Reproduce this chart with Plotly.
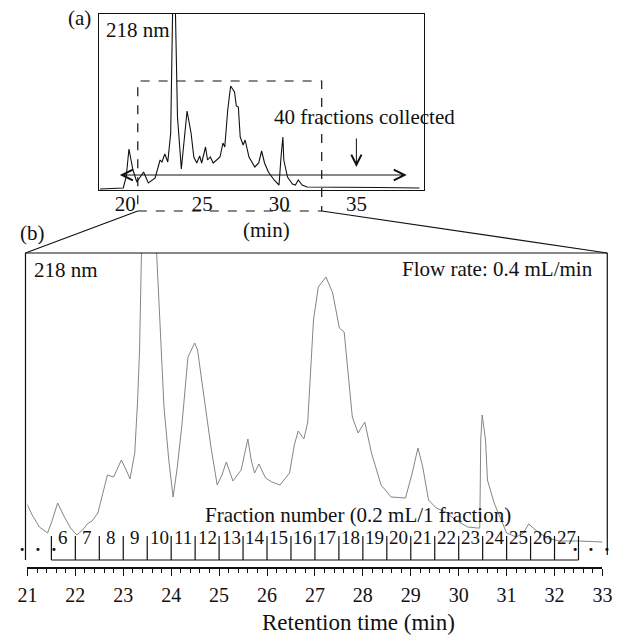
import plotly.graph_objects as go

W, H = 626, 636
FONT = "Liberation Serif"


def px(x):
    return x / W


def py(y):
    return 1 - y / H


# ---------------- data ----------------
# (a) full chromatogram at 218 nm (min, arbitrary absorbance units)
a_time = [18.36, 19.87, 20.06, 20.24, 20.50, 20.75, 21.19, 21.50, 21.94, 22.26,
          22.38, 22.57, 22.76, 22.95, 23.07, 23.17, 23.26, 23.39, 23.64, 23.83,
          24.01, 24.27, 24.45, 24.64, 24.83, 24.96, 25.21, 25.34, 25.52, 25.71,
          26.15, 26.34, 26.46, 26.65, 26.84, 27.09, 27.21, 27.34, 27.46, 27.65,
          27.78, 28.03, 28.41, 28.66, 28.85, 29.04, 29.29, 29.66, 29.98, 30.11,
          30.23, 30.29, 30.53, 30.85, 31.04, 31.23, 31.48, 31.80, 33.25, 36.39,
          39.09]
a_signal = [1, 2, 13, 41, 20, 8, 18, 7, 12, 30,
            28, 36, 28, 57, 176, 260, 176, 73, 21, 50,
            79, 57, 33, 27, 34, 27, 43, 30, 33, 27,
            33, 47, 43, 80, 104, 98, 84, 83, 53, 45,
            50, 33, 23, 27, 39, 27, 18, 10, 5, 33,
            53, 30, 13, 6, 5, 10, 5, 3, 3, 2.5,
            2]

# (b) expanded chromatogram 21-33 min
b_time = [20.98, 21.10, 21.25, 21.42, 21.52, 21.63, 21.75, 21.90, 22.03, 22.15,
          22.27, 22.35, 22.47, 22.57, 22.67, 22.80, 22.96, 23.08, 23.14, 23.24,
          23.30, 23.34, 23.38, 23.55, 23.70, 23.74, 23.85, 23.95, 24.04, 24.12,
          24.22, 24.35, 24.49, 24.55, 24.69, 24.83, 24.96, 25.06, 25.15, 25.29,
          25.46, 25.53, 25.60, 25.67, 25.74, 25.83, 25.97, 26.10, 26.27, 26.47,
          26.57, 26.65, 26.77, 26.85, 26.97, 27.07, 27.23, 27.37, 27.51, 27.61,
          27.71, 27.78, 27.90, 28.04, 28.18, 28.38, 28.59, 28.89, 29.03, 29.15,
          29.25, 29.37, 29.53, 29.73, 29.93, 30.19, 30.39, 30.44, 30.46, 30.49,
          30.56, 30.60, 30.74, 30.88, 31.00, 31.20, 31.35, 31.46, 31.55, 31.68,
          31.85, 32.10, 32.50, 33.00]
b_signal = [64, 52, 40, 34, 47, 64, 52, 39, 32, 37,
            44, 46, 54, 72, 92, 90, 107, 95, 88, 114,
            167, 217, 314, 460, 314, 260, 160, 107, 70, 97,
            140, 210, 224, 217, 167, 120, 82, 92, 105, 86,
            97, 112, 128, 107, 94, 103, 89, 85, 82, 94,
            122, 136, 128, 145, 247, 280, 290, 274, 239, 235,
            187, 150, 134, 145, 114, 82, 70, 69, 94, 119,
            100, 67, 59, 55, 47, 40, 39, 39, 127, 152,
            127, 87, 64, 47, 34, 30, 34, 43, 39, 34,
            29, 26, 26, 25]

fraction_numbers = [6, 7, 8, 9, 10, 11, 12, 13, 14, 15, 16,
                    17, 18, 19, 20, 21, 22, 23, 24, 25, 26, 27]
fraction_edges = [21.5, 22.0, 22.5, 23.0, 23.5, 24.0, 24.5, 25.0, 25.5, 26.0, 26.5, 27.0,
                  27.5, 28.0, 28.5, 29.0, 29.5, 30.0, 30.5, 31.0, 31.5, 32.0, 32.5]

a_ticks = [20, 25, 30, 35]
b_ticks = [21, 22, 23, 24, 25, 26, 27, 28, 29, 30, 31, 32, 33]

# ---------------- figure ----------------
fig = go.Figure()
fig.add_trace(go.Scatter(x=b_time, y=b_signal, xaxis="x", yaxis="y", mode="lines",
                         line=dict(color="#858585", width=1), hoverinfo="skip",
                         showlegend=False))
fig.add_trace(go.Scatter(x=a_time, y=a_signal, xaxis="x2", yaxis="y2", mode="lines",
                         line=dict(color="#111111", width=1.1), hoverinfo="skip",
                         showlegend=False))

tf = dict(family=FONT, size=21, color="#111111")
tickf = dict(family=FONT, size=20, color="#111111")

fig.update_layout(
    width=W, height=H, autosize=False,
    margin=dict(l=0, r=0, t=0, b=0),
    paper_bgcolor="white", plot_bgcolor="rgba(0,0,0,0)",
    font=tf,
    xaxis=dict(domain=[px(18), px(612)], range=[21, 33], anchor="y",
               showline=True, linecolor="#111111", linewidth=1.5,
               ticks="outside", ticklen=7, tickwidth=1.3, tickcolor="#111111",
               tickvals=b_ticks, tickfont=tickf, ticklabelstandoff=2,
               minor=dict(dtick=0.2, ticks="outside", ticklen=4, tickwidth=1,
                          tickcolor="#111111"),
               showgrid=False, zeroline=False),
    yaxis=dict(domain=[py(567), py(253)], range=[0, 314], anchor="x",
               visible=False, showgrid=False, zeroline=False),
    xaxis2=dict(domain=[px(92), px(428)], range=[18.30, 39.41], anchor="y2",
                showline=True, mirror=True, linecolor="#111111", linewidth=1.3,
                ticks="", tickvals=a_ticks, tickfont=tf, ticklabelstandoff=-5,
                showgrid=False, zeroline=False),
    yaxis2=dict(domain=[py(190), py(14)], range=[0, 176], anchor="x2",
                showline=True, mirror=True, linecolor="#111111", linewidth=1.3,
                ticks="", showticklabels=False, showgrid=False, zeroline=False),
)

shapes = []
blk = dict(color="#111111", width=1.2)
# dashed zoom window in (a)
shapes.append(dict(type="rect", xref="paper", yref="paper",
                   x0=px(132), x1=px(322), y0=py(211), y1=py(81),
                   line=dict(color="#111111", width=1.2, dash="dash")))
# connector lines
shapes.append(dict(type="line", xref="paper", yref="paper",
                   x0=px(132), y0=py(211), x1=px(16), y1=py(253), line=blk))
shapes.append(dict(type="line", xref="paper", yref="paper",
                   x0=px(322), y0=py(211), x1=px(617), y1=py(253), line=blk))
# panel (b) frame (left, top, right)
shapes.append(dict(type="line", xref="paper", yref="paper",
                   x0=px(16), y0=py(253), x1=px(16), y1=py(560), line=blk))
shapes.append(dict(type="line", xref="paper", yref="paper",
                   x0=px(16), y0=py(253), x1=px(617), y1=py(253), line=blk))
shapes.append(dict(type="line", xref="paper", yref="paper",
                   x0=px(617), y0=py(253), x1=px(617), y1=py(555), line=blk))
# fraction boxes
for e in fraction_edges:
    shapes.append(dict(type="line", xref="x", yref="paper",
                       x0=e, x1=e, y0=py(536), y1=py(560), line=blk))
shapes.append(dict(type="line", xref="x", yref="paper",
                   x0=fraction_edges[0], x1=fraction_edges[-1],
                   y0=py(560), y1=py(560), line=blk))
fig.update_layout(shapes=shapes)

ann = []


def txt(x, y, s, xanchor="center", size=21):
    ann.append(dict(x=px(x), y=py(y), xref="paper", yref="paper", text=s,
                    showarrow=False, xanchor=xanchor, yanchor="middle",
                    font=dict(family=FONT, size=size, color="#111111")))


txt(72, 18, "(a)")
txt(97, 30, "218 nm", "left")
txt(366, 117, "40 fractions collected")
txt(265, 230, "(min)")
txt(23, 233, "(b)")
txt(23, 270, "218 nm", "left")
txt(604, 269, "Flow rate: 0.4 mL/min", "right")
txt(360, 515, "Fraction number (0.2 mL/1 fraction)")
txt(29, 549, "<b>·  ·  ·</b>", size=19)
txt(600, 549, "<b>·  ·  ·</b>", size=19)
txt(360, 622, "Retention time (min)", size=23)

for i, n in enumerate(fraction_numbers):
    ann.append(dict(x=(fraction_edges[i] + fraction_edges[i + 1]) / 2, y=py(550),
                    xref="x", yref="paper", text=str(n), showarrow=False,
                    font=dict(family=FONT, size=19, color="#111111")))

# double-headed arrow in (a)
ann.append(dict(x=38.27, y=15, xref="x2", yref="y2", ax=19.55, ay=15,
                axref="x2", ayref="y2", text="", showarrow=True,
                arrowside="end+start", arrowhead=5, startarrowhead=5,
                arrowsize=2.1, startarrowsize=2.1, arrowwidth=1,
                arrowcolor="#111111"))
# small down arrow
ann.append(dict(x=35.0, y=23, xref="x2", yref="y2", ax=0, ay=-30, text="",
                showarrow=True, arrowhead=5, arrowsize=2.0, arrowwidth=1,
                arrowcolor="#111111"))

fig.update_layout(annotations=ann)

fig.write_html("out.html")
